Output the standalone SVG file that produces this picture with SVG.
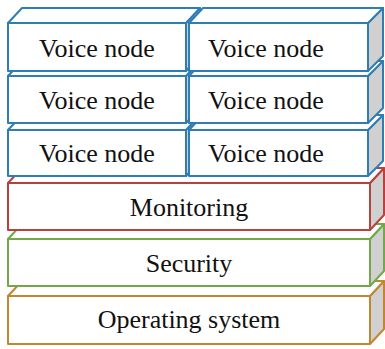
<svg xmlns="http://www.w3.org/2000/svg" width="385" height="349" viewBox="0 0 385 349">
<style>
.f{fill:#ffffff}
.t{fill:#ffffff}
.s{fill:#d0d0d0}
.bl polygon{stroke:#2e7db5}
.rd polygon{stroke:#b8413c}
.gr polygon{stroke:#72a84a}
.or polygon{stroke:#c4852f}
polygon{stroke-width:2;stroke-linejoin:round}
text{font-family:'Liberation Serif','Times New Roman',serif;font-size:26px;fill:#111111}
.c{text-anchor:middle}
</style>
<rect width="385" height="349" fill="#ffffff"/>
<g id="os" class="or">
<polygon class="s" points="370,296 384,281 384,329 370,344"/>
<polygon class="t" points="8,296 22,281 384,281 370,296"/>
<polygon class="f" points="8,296 370,296 370,344 8,344"/>
<text class="c" x="189" y="328">Operating system</text>
</g>
<g id="security" class="gr">
<polygon class="s" points="370,239 384,224 384,271 370,286"/>
<polygon class="t" points="8,239 22,224 384,224 370,239"/>
<polygon class="f" points="8,239 370,239 370,286 8,286"/>
<text class="c" x="189" y="272">Security</text>
</g>
<g id="monitoring" class="rd">
<polygon class="s" points="370,183 384,168 384,215 370,230"/>
<polygon class="t" points="8,183 22,168 384,168 370,183"/>
<polygon class="f" points="8,183 370,183 370,230 8,230"/>
<text class="c" x="189" y="216">Monitoring</text>
</g>
<g id="voice31" class="bl">
<polygon class="s" points="186,130 200,115 200,161 186,176"/>
<polygon class="t" points="8,130 22,115 200,115 186,130"/>
<polygon class="f" points="8,130 186,130 186,176 8,176"/>
<text class="c" x="97" y="162">Voice node</text>
</g>
<g id="voice32" class="bl">
<polygon class="s" points="368,130 383,115 383,161 368,176"/>
<polygon class="t" points="189,130 203,115 383,115 368,130"/>
<polygon class="f" points="189,130 368,130 368,176 189,176"/>
<text class="c" x="266" y="162">Voice node</text>
</g>
<g id="voice21" class="bl">
<polygon class="s" points="186,76 200,61 200,108 186,123"/>
<polygon class="t" points="8,76 22,61 200,61 186,76"/>
<polygon class="f" points="8,76 186,76 186,123 8,123"/>
<text class="c" x="97" y="109">Voice node</text>
</g>
<g id="voice22" class="bl">
<polygon class="s" points="368,76 383,61 383,108 368,123"/>
<polygon class="t" points="189,76 203,61 383,61 368,76"/>
<polygon class="f" points="189,76 368,76 368,123 189,123"/>
<text class="c" x="266" y="109">Voice node</text>
</g>
<g id="voice11" class="bl">
<polygon class="s" points="186,23 200,8 200,56 186,71"/>
<polygon class="t" points="8,23 22,8 200,8 186,23"/>
<polygon class="f" points="8,23 186,23 186,71 8,71"/>
<text class="c" x="97" y="57">Voice node</text>
</g>
<g id="voice12" class="bl">
<polygon class="s" points="368,23 383,8 383,56 368,71"/>
<polygon class="t" points="189,23 203,8 383,8 368,23"/>
<polygon class="f" points="189,23 368,23 368,71 189,71"/>
<text class="c" x="266" y="57">Voice node</text>
</g>
<g id="connectors"/>
</svg>
